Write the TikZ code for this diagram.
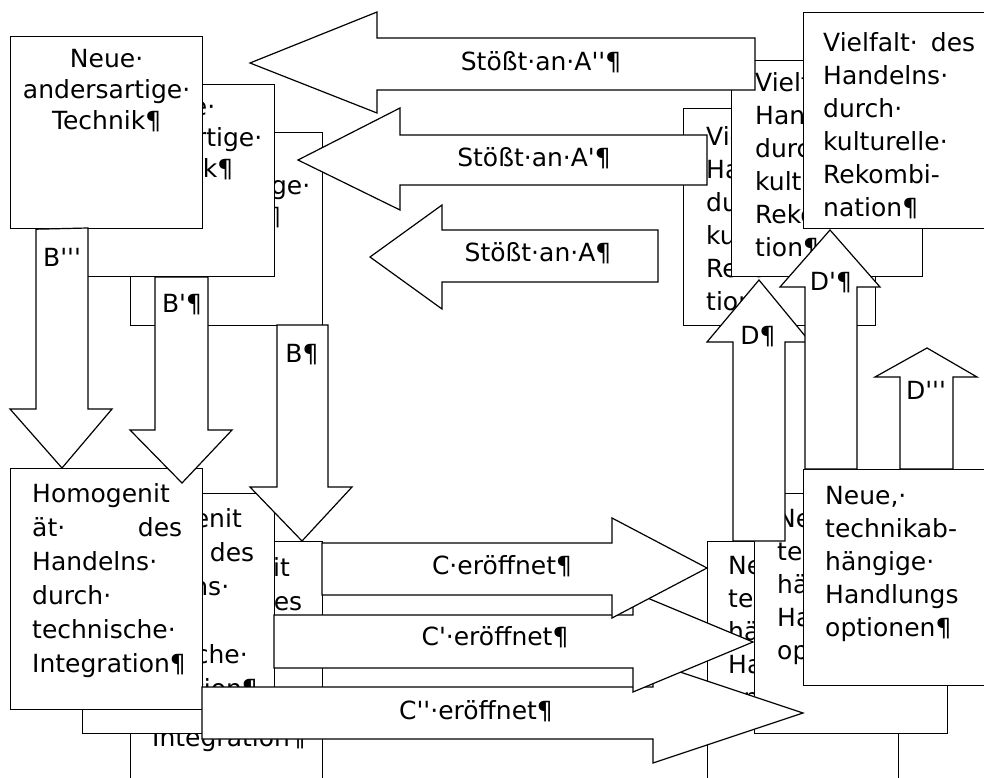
\documentclass[tikz,border=0pt]{standalone}
\usepackage{fontspec}
\setmainfont{DejaVu Sans}[Ligatures=TeXOff]
\usetikzlibrary{positioning}

\newcommand{\cardfont}{\fontsize{25}{33}\selectfont}
\newcommand{\techfont}{\fontsize{25}{31}\selectfont}
\newcommand{\homfont}{\fontsize{25}{34}\selectfont}

\begin{document}
\begin{tikzpicture}[x=1pt, y=-1pt,
  every node/.style={inner sep=0pt},
  card/.style={draw, fill=white, line width=1.2pt, anchor=north west,
               minimum width=192pt},
  cardtxt/.style={font=\cardfont, align=left, anchor=north west,
                  execute at begin node=\strut},
  techtxt/.style={font=\techfont, align=center, anchor=north,
                  execute at begin node=\strut},
  homtxt/.style={font=\homfont, align=left, anchor=north west,
                 execute at begin node=\strut},
  blockarr/.style={draw, fill=white, line width=1.2pt, line join=miter},
  arrlbl/.style={font=\fontsize{25}{30}\selectfont}
]
  \useasboundingbox (0,0) rectangle (984,778);
  \clip (0,0) rectangle (984,778);
  \fill[white] (0,0) rectangle (984,778);

  % Technik
  \node[card, minimum height=193pt] (tech0) at (130,132) {};
  \node[techtxt] (tech0t) at ([shift={(0,13)}]tech0.north) {Neue·\\andersartige·\\Technik¶};
  \node[card, minimum height=192pt] (tech1) at (82,84) {};
  \node[techtxt] (tech1t) at ([shift={(0,13)}]tech1.north) {Neue·\\andersartige·\\Technik¶};
  \node[card, minimum height=192pt] (tech2) at (10,36) {};
  \node[techtxt] (tech2t) at ([shift={(0,13)}]tech2.north) {Neue·\\andersartige·\\Technik¶};

  % Homogenitaet
  \node[card, minimum height=241pt] (hom0) at (130,541) {};
  \node[homtxt] (hom0t) at ([shift={(22,16)}]hom0.north west)
    {Homogenit\\\hbox to 150pt{ät·\hfill des}\\Handelns·\\durch·\\technische·\\Integration¶};
  \node[card, minimum height=240pt] (hom1) at (82,493) {};
  \node[homtxt] (hom1t) at ([shift={(22,15)}]hom1.north west)
    {Homogenit\\\hbox to 150pt{ät·\hfill des}\\Handelns·\\durch·\\technische·\\Integration¶};
  \node[card, minimum height=241pt] (hom2) at (10,468) {};
  \node[homtxt] (hom2t) at ([shift={(22,15)}]hom2.north west)
    {Homogenit\\\hbox to 150pt{ät·\hfill des}\\Handelns·\\durch·\\technische·\\Integration¶};

  % Vielfalt
  \node[card, minimum height=217pt] (viel0) at (683,108) {};
  \node[cardtxt] (viel0t) at ([shift={(23,18)}]viel0.north west)
    {Vielfalt·\\Handelns·\\durch·\\kulturelle·\\Rekombina-\\tion¶};
  \node[card, minimum height=216pt, minimum width=191pt] (viel1) at (731,60) {};
  \node[cardtxt] (viel1t) at ([shift={(24,12)}]viel1.north west)
    {Vielfalt·\\Handelns·\\durch·\\kulturelle·\\Rekombina-\\tion¶};
  \node[card, minimum height=216pt] (viel2) at (803,12) {};
  \node[cardtxt] (viel2t) at ([shift={(20,20)}]viel2.north west)
    {\hbox to 152pt{Vielfalt·\hfill des}\\Handelns·\\durch·\\kulturelle·\\Rekombi-\\nation¶};

  % Handlungsoptionen
  \node[card, minimum height=241pt, minimum width=191pt] (opt0) at (707,541) {};
  \node[cardtxt] (opt0t) at ([shift={(21,15)}]opt0.north west)
    {Neue,·\\technikab-\\hängige·\\Handlungs\\optionen¶};
  \node[card, minimum height=240pt, minimum width=193pt] (opt1) at (754,493) {};
  \node[cardtxt] (opt1t) at ([shift={(23,16)}]opt1.north west)
    {Neue,·\\technikab-\\hängige·\\Handlungs\\optionen¶};
  \node[card, minimum height=216pt] (opt2) at (803,469) {};
  \node[cardtxt] (opt2t) at ([shift={(22,17)}]opt2.north west)
    {Neue,·\\technikab-\\hängige·\\Handlungs\\optionen¶};

  % Stoesst an
  \draw[blockarr] (370,257) -- (442,205) -- (442,230) -- (658,230) -- (658,282)
    -- (442,282) -- (442,309) -- cycle;
  \node[arrlbl] (a0) at (538,253) {Stößt·an·A¶};
  \draw[blockarr] (298,160) -- (400,108) -- (400,135) -- (707,135) -- (707,185)
    -- (400,185) -- (400,210) -- cycle;
  \node[arrlbl] (a1) at (534,158) {Stößt·an·A'¶};
  \draw[blockarr] (250,63) -- (377,12) -- (377,38) -- (755,38) -- (755,90)
    -- (377,90) -- (377,113) -- cycle;
  \node[arrlbl] (a2) at (541,62) {Stößt·an·A''¶};

  % B
  \draw[blockarr] (tech2.south -| 36,0) -- (88,228) -- (88,409) -- (112,409)
    -- (62,468) -- (10,409) -- (36,409) -- cycle;
  \node[arrlbl] (b2) at (62,257) {B'''};
  \draw[blockarr] (155,277) -- (208,277) -- (208,430) -- (232,430)
    -- (182,483) -- (130,430) -- (155,430) -- cycle;
  \node[arrlbl] (b1) at (182,305) {B'¶};
  \draw[blockarr] (277,325) -- (328,325) -- (328,487) -- (352,487)
    -- (302,541) -- (250,487) -- (277,487) -- cycle;
  \node[arrlbl] (b0) at (302,355) {B¶};

  % C
  \draw[blockarr] (202,687) -- (653,687) -- (653,663) -- (803,713)
    -- (653,763) -- (653,739) -- (202,739) -- cycle;
  \node[arrlbl] (c2) at (476,711) {C''·eröffnet¶};
  \draw[blockarr] (274,615) -- (633,615) -- (633,592) -- (753,642)
    -- (633,692) -- (633,668) -- (274,668) -- cycle;
  \node[arrlbl] (c1) at (495,637) {C'·eröffnet¶};
  \draw[blockarr] (322,543) -- (612,543) -- (612,518) -- (707,568)
    -- (612,618) -- (612,595) -- (322,595) -- cycle;
  \node[arrlbl] (c0) at (502,566) {C·eröffnet¶};

  % D
  \draw[blockarr] (733,541) -- (733,342) -- (707,342) -- (759,280)
    -- (810,342) -- (785,342) -- (785,541) -- cycle;
  \node[arrlbl] (d0) at (758,337) {D¶};
  \draw[blockarr] (805,469) -- (805,287) -- (780,287) -- (830,230)
    -- (880,287) -- (857,287) -- (857,469) -- cycle;
  \node[arrlbl] (d1) at (831,283) {D'¶};
  \draw[blockarr] (900,469) -- (900,377) -- (875,377) -- (927,348)
    -- (977,377) -- (953,377) -- (953,469) -- cycle;
  \node[arrlbl] (d2) at (926,390) {D'''};
\end{tikzpicture}
\end{document}
